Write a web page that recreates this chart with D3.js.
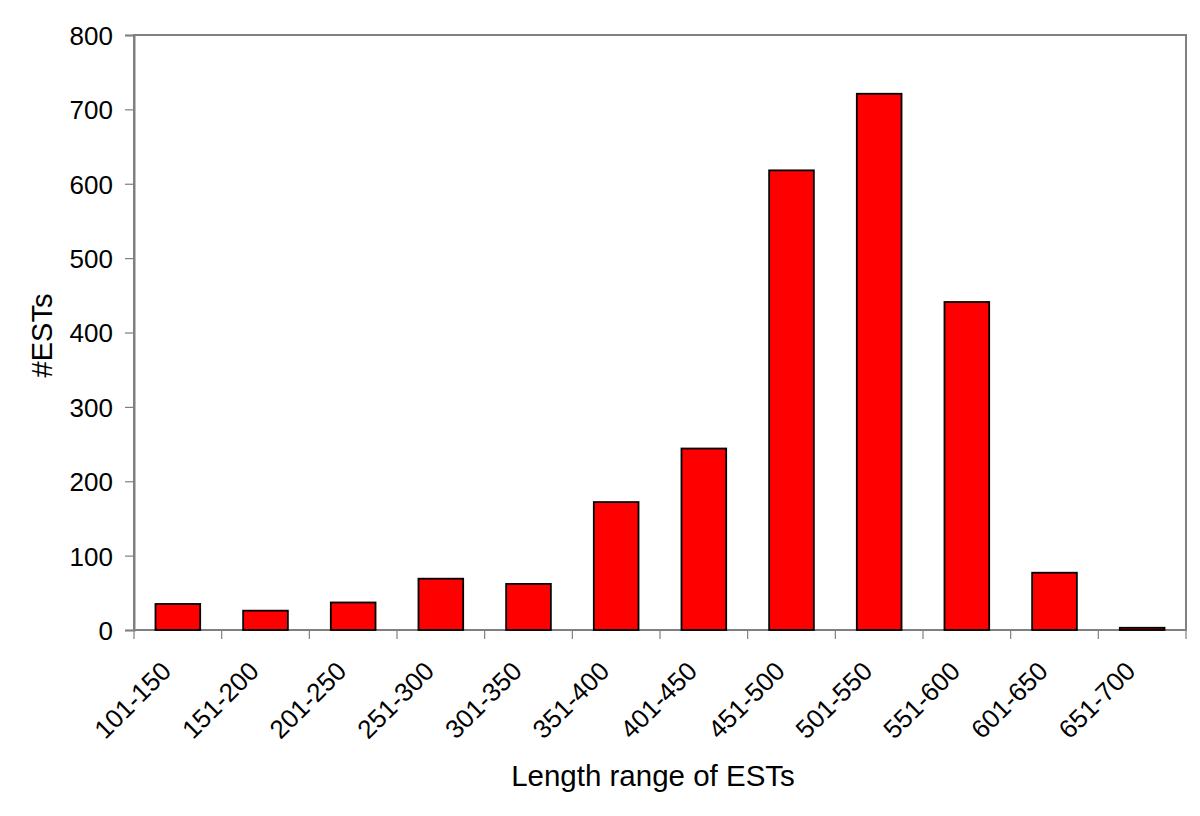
<!DOCTYPE html>
<html>
<head>
<meta charset="utf-8">
<script src="https://cdn.jsdelivr.net/npm/d3@7"></script>
<style>
	body { margin: 0; background: #fff; }
	text { font-family: "Liberation Sans", Arial, sans-serif; fill: #000; }
</style>
</head>
<body>
<div id="chart"></div>
<script>
/* EST length histogram */

const categories = ["101-150","151-200","201-250","251-300","301-350","351-400",
	"401-450","451-500","501-550","551-600","601-650","651-700"]
const counts = [35, 26, 37, 69, 62, 172, 244, 618, 721, 441, 77, 3]
const yTicks = [0, 100, 200, 300, 400, 500, 600, 700, 800]

const width = 1200, height = 816
const margin = {top: 35, right: 14, bottom: 186, left: 134}

const svg = d3.select("#chart").append("svg")
	.attr("width", width)
	.attr("height", height)

const x = d3.scaleBand()
	.domain(categories)
	.range([margin.left, width - margin.right])
	.paddingInner(0.49)
	.paddingOuter(0.245)

const y = d3.scaleLinear()
	.domain([0, 800])
	.range([height - margin.bottom, margin.top])

const grey = "#808080"

// plot frame
svg.append("rect")
	.attr("x", margin.left)
	.attr("y", margin.top)
	.attr("width", width - margin.right - margin.left)
	.attr("height", height - margin.bottom - margin.top)
	.attr("fill", "none")
	.attr("stroke", grey)
	.attr("stroke-width", 2)

// y axis
const yAxis = svg.append("g")
	.attr("transform", `translate(${margin.left},0)`)
	.call(d3.axisLeft(y).tickValues(yTicks).tickSize(9).tickPadding(12))
yAxis.select(".domain").attr("stroke", grey).attr("stroke-width", 2)
yAxis.selectAll(".tick line").attr("stroke", grey).attr("stroke-width", 1.2)
yAxis.selectAll(".tick text").style("font-size", "26px").attr("dy", "0.36em")

// x axis: ticks sit on the band boundaries
const bounds = d3.range(categories.length + 1).map(i => margin.left + i * (width - margin.right - margin.left) / categories.length)
svg.append("g").selectAll("line")
	.data(bounds)
	.join("line")
	.attr("x1", d => d).attr("x2", d => d)
	.attr("y1", y(0)).attr("y2", y(0) + 9)
	.attr("stroke", grey).attr("stroke-width", 1.2)

svg.append("line")
	.attr("x1", margin.left).attr("x2", width - margin.right)
	.attr("y1", y(0)).attr("y2", y(0))
	.attr("stroke", grey).attr("stroke-width", 2)

svg.append("g").selectAll("text")
	.data(categories)
	.join("text")
	.attr("transform", d => `translate(${x(d) + x.bandwidth() / 2 - 18},${y(0) + 30}) rotate(-45)`)
	.attr("text-anchor", "end")
	.attr("dy", "0.7em")
	.style("font-size", "26px")
	.text(d => d)

// bars
svg.append("g").selectAll("rect")
	.data(counts)
	.join("rect")
	.attr("x", (d, i) => x(categories[i]))
	.attr("y", d => y(d))
	.attr("width", x.bandwidth())
	.attr("height", d => y(0) - y(d))
	.attr("fill", "#ff0000")
	.attr("stroke", "#000")
	.attr("stroke-width", 1.8)

// axis titles
svg.append("text")
	.attr("x", (margin.left + width - margin.right) / 2 - 7)
	.attr("y", 786)
	.attr("text-anchor", "middle")
	.style("font-size", "29.5px")
	.text("Length range of ESTs")

svg.append("text")
	.attr("transform", `translate(52,${(margin.top + y(0)) / 2 + 3}) rotate(-90)`)
	.attr("text-anchor", "middle")
	.style("font-size", "29px")
	.text("#ESTs")
</script>
</body>
</html>
